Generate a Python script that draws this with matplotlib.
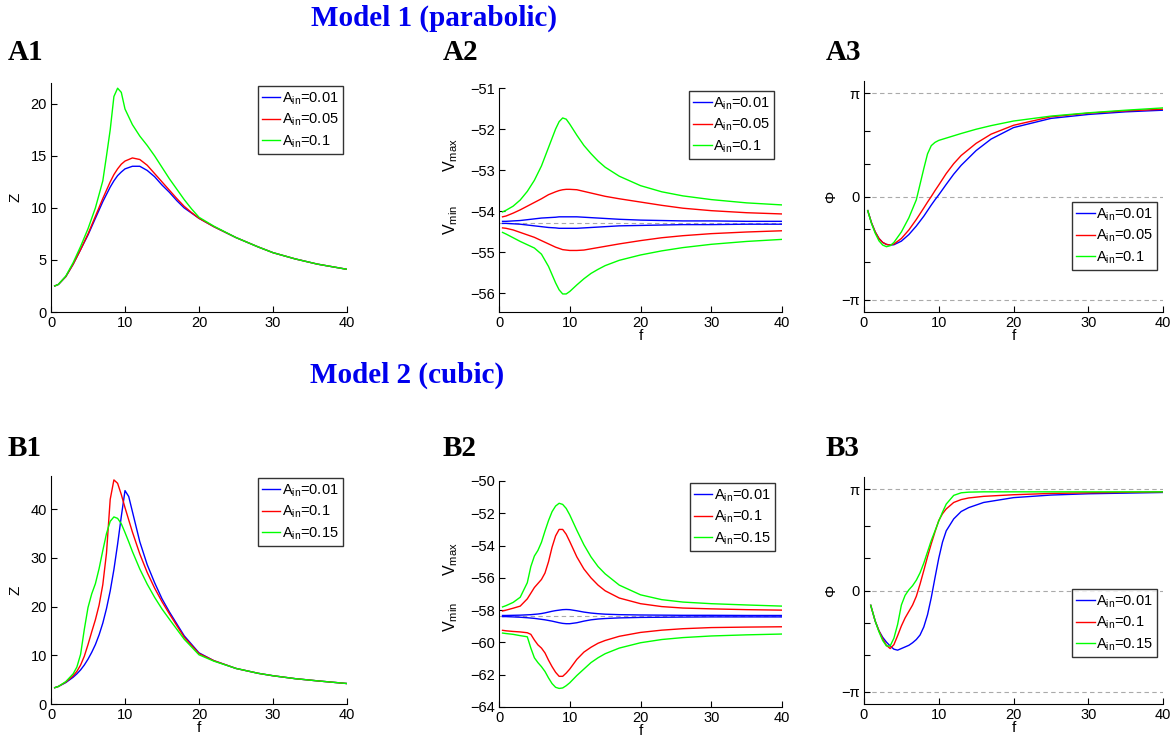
import numpy as np
import matplotlib
matplotlib.use('Agg')
import matplotlib.pyplot as plt

plt.rcParams['font.family'] = 'Liberation Sans'
plt.rcParams['mathtext.fontset'] = 'custom'
plt.rcParams['mathtext.rm'] = 'Liberation Sans'
plt.rcParams['mathtext.it'] = 'Liberation Sans:italic'

BLUE, RED, GREEN = '#0000ff', '#ff0000', '#00ff00'

# ─── A1: Z(f), model 1 ────────────────────────────────────────────────────────
F_A1 = [0.5, 1, 2, 3, 4, 5, 6, 7, 7.5, 8, 8.5, 9, 9.5, 10, 11, 12, 13, 14, 15,
        16, 17, 18, 19, 20, 22, 25, 28, 30, 33, 36, 40]
Z_A1_001 = [2.5, 2.65, 3.4, 4.6, 6.0, 7.4, 9.0, 10.6, 11.3, 12.0, 12.6, 13.1, 13.45,
            13.75, 14.0, 14.0, 13.6, 13.0, 12.2, 11.5, 10.7, 10.0, 9.5, 9.0, 8.2,
            7.15, 6.25, 5.7, 5.1, 4.6, 4.1]
Z_A1_005 = [2.5, 2.65, 3.4, 4.6, 6.0, 7.5, 9.2, 10.9, 11.7, 12.5, 13.2, 13.75, 14.2,
            14.5, 14.8, 14.65, 14.1, 13.3, 12.5, 11.7, 10.9, 10.15, 9.55, 9.0, 8.2,
            7.15, 6.25, 5.7, 5.1, 4.6, 4.1]
Z_A1_01 = [2.5, 2.65, 3.45, 4.75, 6.3, 8.0, 10.0, 12.6, 15.0, 17.5, 20.7, 21.5, 21.1,
           19.5, 18.0, 16.9, 16.0, 15.0, 13.9, 12.8, 11.8, 10.8, 9.9, 9.1, 8.25,
           7.15, 6.25, 5.7, 5.1, 4.6, 4.1]
LAB_A = ['0.01', '0.05', '0.1']

# ─── A2: Vmax / Vmin, model 1 ─────────────────────────────────────────────────
F_A2 = [0.5, 1, 2, 3, 4, 5, 6, 7, 8, 8.5, 9, 9.5, 10, 11, 12, 13, 14, 15, 17, 20,
        23, 26, 30, 35, 40]
VMAX_A2_001 = [-54.25, -54.25, -54.24, -54.23, -54.21, -54.19, -54.17, -54.16, -54.15,
               -54.14, -54.14, -54.14, -54.14, -54.14, -54.15, -54.16, -54.17, -54.18,
               -54.2, -54.22, -54.23, -54.24, -54.24, -54.25, -54.25]
VMIN_A2_001 = [-54.30, -54.30, -54.31, -54.32, -54.34, -54.36, -54.38, -54.4, -54.41,
               -54.42, -54.42, -54.42, -54.42, -54.42, -54.41, -54.40, -54.39, -54.38,
               -54.36, -54.35, -54.34, -54.33, -54.33, -54.32, -54.32]
VMAX_A2_005 = [-54.14, -54.12, -54.05, -53.97, -53.88, -53.79, -53.7, -53.6, -53.53,
               -53.5, -53.48, -53.47, -53.47, -53.48, -53.52, -53.56, -53.6, -53.64,
               -53.7, -53.78, -53.86, -53.93, -53.99, -54.04, -54.07]
VMIN_A2_005 = [-54.41, -54.42, -54.46, -54.52, -54.58, -54.64, -54.72, -54.8, -54.88,
               -54.91, -54.94, -54.95, -54.96, -54.96, -54.95, -54.92, -54.89, -54.86,
               -54.8, -54.72, -54.65, -54.6, -54.55, -54.51, -54.48]
VMAX_A2_01 = [-54.02, -53.98, -53.88, -53.73, -53.52, -53.25, -52.9, -52.45, -52.0,
              -51.82, -51.73, -51.76, -51.88, -52.15, -52.4, -52.6, -52.78, -52.93,
              -53.15, -53.38, -53.53, -53.63, -53.72, -53.8, -53.85]
VMIN_A2_01 = [-54.52, -54.56, -54.65, -54.74, -54.82, -54.9, -55.05, -55.35, -55.75,
              -55.92, -56.02, -56.02, -55.96, -55.8, -55.65, -55.52, -55.42, -55.33,
              -55.2, -55.07, -54.97, -54.89, -54.81, -54.74, -54.69]
VREST_A2 = -54.28

# ─── A3: phase, model 1 ───────────────────────────────────────────────────────
F_A3 = [0.5, 1, 1.5, 2, 2.5, 3, 3.5, 4, 5, 6, 7, 8, 8.5, 9, 9.5, 10, 11, 12, 13, 15,
        17, 20, 25, 30, 35, 40]
PH_A3_001 = [-0.43, -0.8, -1.08, -1.28, -1.4, -1.46, -1.48, -1.47, -1.36, -1.16, -0.9,
             -0.6, -0.43, -0.26, -0.1, 0.05, 0.37, 0.68, 0.95, 1.4, 1.75, 2.1, 2.38,
             2.5, 2.58, 2.63]
PH_A3_005 = [-0.43, -0.8, -1.08, -1.28, -1.4, -1.46, -1.48, -1.45, -1.28, -1.02, -0.7,
             -0.35, -0.17, 0.0, 0.18, 0.35, 0.7, 1.0, 1.25, 1.62, 1.9, 2.17, 2.43,
             2.54, 2.61, 2.66]
PH_A3_01 = [-0.43, -0.82, -1.12, -1.35, -1.48, -1.53, -1.5, -1.4, -1.08, -0.65, -0.1,
            0.85, 1.3, 1.55, 1.65, 1.71, 1.78, 1.85, 1.92, 2.05, 2.16, 2.3, 2.45, 2.55,
            2.63, 2.7]

# ─── B1: Z(f), model 2 ────────────────────────────────────────────────────────
F_B1 = [0.5, 1, 2, 3, 3.5, 4, 4.5, 5, 5.5, 6, 6.5, 7, 7.5, 8, 8.5, 9, 9.5, 10, 10.5,
        11, 12, 13, 14, 15, 16, 18, 20, 22, 25, 28, 30, 33, 36, 40]
Z_B1_001 = [3.35, 3.6, 4.4, 5.5, 6.2, 7.0, 8.0, 9.2, 10.6, 12.2, 14.2, 16.6, 19.6,
            23.2, 27.6, 32.8, 38.5, 43.8, 42.6, 39.5, 33.3, 28.6, 24.9, 21.6, 18.9,
            14.0, 10.5, 8.9, 7.3, 6.3, 5.8, 5.2, 4.75, 4.2]
Z_B1_01 = [3.35, 3.6, 4.5, 5.8, 6.7, 8.0, 9.8, 12.2, 14.8, 17.3, 20.3, 24.5, 31.0,
           42.0, 46.0, 45.3, 43.0, 40.3, 37.8, 35.3, 30.8, 27.0, 23.8, 21.0, 18.5,
           13.7, 10.35, 8.9, 7.3, 6.3, 5.8, 5.2, 4.75, 4.2]
Z_B1_015 = [3.35, 3.6, 4.6, 6.2, 7.6, 10.2, 15.3, 19.8, 22.6, 24.7, 27.8, 31.5, 35.0,
            37.5, 38.4, 38.1, 37.0, 35.2, 33.3, 31.3, 27.7, 24.6, 21.9, 19.5, 17.4,
            13.3, 10.1, 8.8, 7.3, 6.3, 5.8, 5.2, 4.75, 4.2]
LAB_B = ['0.01', '0.1', '0.15']

# ─── B2: Vmax / Vmin, model 2 ─────────────────────────────────────────────────
F_B2 = [0.5, 1, 2, 3, 4, 4.5, 5, 5.5, 6, 6.5, 7, 7.5, 8, 8.5, 9, 9.5, 10, 11, 12,
        13, 14, 15, 17, 20, 23, 26, 30, 35, 40]
VMAX_B2_001 = [-58.33, -58.33, -58.32, -58.31, -58.29, -58.28, -58.26, -58.24, -58.21,
               -58.17, -58.12, -58.07, -58.03, -58.0, -57.97, -57.96, -57.97, -58.04,
               -58.12, -58.18, -58.22, -58.25, -58.28, -58.3, -58.31, -58.32, -58.32,
               -58.33, -58.33]
VMIN_B2_001 = [-58.4, -58.4, -58.42, -58.44, -58.47, -58.49, -58.51, -58.54, -58.57,
               -58.6, -58.64, -58.68, -58.73, -58.78, -58.82, -58.84, -58.84, -58.78,
               -58.68, -58.6, -58.55, -58.52, -58.48, -58.45, -58.44, -58.43, -58.42,
               -58.42, -58.42]
VMAX_B2_01 = [-58.05, -58.0, -57.88, -57.75, -57.3, -56.95, -56.6, -56.35, -56.1,
              -55.7, -55.0, -54.1, -53.4, -53.0, -53.0, -53.3, -53.75, -54.7, -55.45,
              -56.0, -56.45, -56.8, -57.25, -57.6, -57.78, -57.87, -57.92, -57.97, -58.0]
VMIN_B2_01 = [-59.25, -59.28, -59.32, -59.35, -59.4, -59.5, -59.85, -60.15, -60.35,
              -60.65, -61.1, -61.5, -61.85, -62.1, -62.1, -61.9, -61.65, -61.05, -60.6,
              -60.3, -60.05, -59.88, -59.62, -59.38, -59.24, -59.15, -59.08, -59.05,
              -59.03]
VMAX_B2_015 = [-57.8, -57.72, -57.52, -57.2, -56.3, -55.3, -54.65, -54.3, -53.8, -53.1,
               -52.45, -51.9, -51.55, -51.38, -51.45, -51.7, -52.1, -53.05, -53.95,
               -54.7, -55.3, -55.75, -56.45, -57.05, -57.35, -57.5, -57.6, -57.68,
               -57.75]
VMIN_B2_015 = [-59.42, -59.45, -59.5, -59.58, -59.65, -60.35, -60.95, -61.25, -61.5,
               -61.8, -62.2, -62.55, -62.78, -62.85, -62.82, -62.68, -62.5, -62.05,
               -61.65, -61.25, -60.95, -60.7, -60.35, -60.02, -59.82, -59.7, -59.6,
               -59.53, -59.48]

# ─── B3: phase, model 2 ───────────────────────────────────────────────────────
F_B3 = [0.9, 1.5, 2, 2.5, 3, 3.5, 4, 4.5, 5, 5.5, 6, 6.5, 7, 7.5, 8, 8.5, 9, 9.5, 10,
        10.5, 11, 12, 13, 14, 16, 20, 25, 30, 40]
PH_B3_001 = [-0.46, -0.95, -1.25, -1.45, -1.6, -1.72, -1.82, -1.85, -1.8, -1.75, -1.7,
             -1.62, -1.52, -1.38, -1.13, -0.75, -0.22, 0.4, 1.0, 1.5, 1.85, 2.22, 2.45,
             2.57, 2.73, 2.88, 2.96, 3.0, 3.04]
PH_B3_01 = [-0.46, -0.95, -1.25, -1.5, -1.7, -1.8, -1.68, -1.4, -1.1, -0.85, -0.65,
            -0.45, -0.18, 0.2, 0.62, 1.05, 1.45, 1.82, 2.17, 2.38, 2.53, 2.73, 2.82,
            2.87, 2.92, 2.97, 3.01, 3.03, 3.06]
PH_B3_015 = [-0.46, -0.95, -1.28, -1.55, -1.72, -1.72, -1.48, -1.05, -0.45, -0.15,
             0.02, 0.15, 0.32, 0.55, 0.85, 1.2, 1.55, 1.85, 2.15, 2.43, 2.68, 2.95,
             3.03, 3.05, 3.06, 3.06, 3.06, 3.06, 3.06]


def style(ax):
    for s in ('top', 'right'):
        ax.spines[s].set_visible(False)
    for s in ('left', 'bottom'):
        ax.spines[s].set_linewidth(0.8)
    ax.tick_params(direction='in', length=4, width=0.8, labelsize=10.5, pad=3)
    ax.set_xlim(0, 40)
    ax.set_xticks([0, 10, 20, 30, 40])


def legend(ax, handles, labels, anchor):
    lg = ax.legend(handles, [r'A$_{\rm in}$=' + l for l in labels],
                   loc='upper right', bbox_to_anchor=anchor, fontsize=10.5,
                   frameon=True, fancybox=False, handlelength=1.25,
                   handletextpad=0.1, borderpad=0.3, labelspacing=0.35,
                   borderaxespad=0)
    lg.get_frame().set_edgecolor('k')
    lg.get_frame().set_linewidth(1.0)


def phase_axis(ax):
    for v in (-np.pi, 0, np.pi):
        ax.axhline(v, color='#aaaaaa', ls='--', lw=0.8, dashes=(4, 3), zorder=0)
    ax.set_ylim(-3.52, 3.52)
    ax.set_yticks([-np.pi, -2, -1, 0, 1, 2, np.pi])
    ax.set_yticklabels(['\u2212\u03c0', '', '', '0', '', '', '\u03c0'])
    ax.set_ylabel('\u03a6', fontsize=11, labelpad=2)
    ax.set_xlabel('f', fontsize=11, labelpad=-1)


fig = plt.figure(figsize=(11.73, 7.38), dpi=100)
W, H = 1173.0, 738.0


def add_axes(l, r, t, b):
    return fig.add_axes([l / W, 1 - b / H, (r - l) / W, (b - t) / H])


axA1 = add_axes(51, 347, 83, 312)
axA2 = add_axes(499, 782, 88, 312)
axA3 = add_axes(864, 1163, 81, 312)
axB1 = add_axes(51, 347, 476, 704)
axB2 = add_axes(499, 782, 481, 707)
axB3 = add_axes(864, 1163, 477, 704)
for ax in (axA1, axA2, axA3, axB1, axB2, axB3):
    style(ax)

# A1
hs = [axA1.plot(F_A1, z, color=c, lw=1)[0]
      for z, c in zip([Z_A1_001, Z_A1_005, Z_A1_01], [BLUE, RED, GREEN])]
axA1.set_ylim(0, 22)
axA1.set_yticks([0, 5, 10, 15, 20])
axA1.set_ylabel('Z', fontsize=11, labelpad=6)
legend(axA1, hs, LAB_A, (0.986, 0.987))

# A2
axA2.axhline(VREST_A2, color='#aaaaaa', ls='--', lw=0.8, dashes=(4, 3), zorder=0)
hs = []
for vmax, vmin, c in zip([VMAX_A2_001, VMAX_A2_005, VMAX_A2_01],
                         [VMIN_A2_001, VMIN_A2_005, VMIN_A2_01], [BLUE, RED, GREEN]):
    hs.append(axA2.plot(F_A2, vmax, color=c, lw=1)[0])
    axA2.plot(F_A2, vmin, color=c, lw=1)
axA2.set_ylim(-56.46, -51)
axA2.set_yticks([-56, -55, -54, -53, -52, -51])
axA2.set_yticklabels(['\u221256', '\u221255', '\u221254', '\u221253', '\u221252', '\u221251'])
axA2.text(-0.17, 0.70, r'V$_{\rm max}$', transform=axA2.transAxes, rotation=90,
          ha='center', va='center', fontsize=11.5)
axA2.text(-0.17, 0.41, r'V$_{\rm min}$', transform=axA2.transAxes, rotation=90,
          ha='center', va='center', fontsize=11.5)
axA2.set_xlabel('f', fontsize=11, labelpad=-1)
legend(axA2, hs, LAB_A, (0.972, 0.987))

# A3
phase_axis(axA3)
hs = [axA3.plot(F_A3, p, color=c, lw=1)[0]
      for p, c in zip([PH_A3_001, PH_A3_005, PH_A3_01], [BLUE, RED, GREEN])]
legend(axA3, hs, LAB_A, (0.98, 0.476))

# B1
hs = [axB1.plot(F_B1, z, color=c, lw=1)[0]
      for z, c in zip([Z_B1_001, Z_B1_01, Z_B1_015], [BLUE, RED, GREEN])]
axB1.set_ylim(0, 46.8)
axB1.set_yticks([0, 10, 20, 30, 40])
axB1.set_ylabel('Z', fontsize=11, labelpad=6)
axB1.set_xlabel('f', fontsize=11, labelpad=-1)
legend(axB1, hs, LAB_B, (0.986, 0.991))

# B2
axB2.axhline(-58.38, color='#aaaaaa', ls='--', lw=0.8, dashes=(4, 3), zorder=0)
hs = []
for vmax, vmin, c in zip([VMAX_B2_001, VMAX_B2_01, VMAX_B2_015],
                         [VMIN_B2_001, VMIN_B2_01, VMIN_B2_015], [BLUE, RED, GREEN]):
    hs.append(axB2.plot(F_B2, vmax, color=c, lw=1)[0])
    axB2.plot(F_B2, vmin, color=c, lw=1)
axB2.set_ylim(-64, -50)
axB2.set_yticks([-64, -62, -60, -58, -56, -54, -52, -50])
axB2.set_yticklabels(['\u2212%d' % v for v in [64, 62, 60, 58, 56, 54, 52, 50]])
axB2.text(-0.17, 0.655, r'V$_{\rm max}$', transform=axB2.transAxes, rotation=90,
          ha='center', va='center', fontsize=11.5)
axB2.text(-0.17, 0.40, r'V$_{\rm min}$', transform=axB2.transAxes, rotation=90,
          ha='center', va='center', fontsize=11.5)
axB2.set_xlabel('f', fontsize=11, labelpad=-1)
legend(axB2, hs, LAB_B, (0.975, 0.991))

# B3
phase_axis(axB3)
hs = [axB3.plot(F_B3, p, color=c, lw=1)[0]
      for p, c in zip([PH_B3_001, PH_B3_01, PH_B3_015], [BLUE, RED, GREEN])]
legend(axB3, hs, LAB_B, (0.98, 0.507))

# headings and panel letters
serif = dict(family='Liberation Serif', fontweight='bold')
fig.text(434 / W, 1 - 18 / H, 'Model 1 (parabolic)', ha='center', va='center',
         color='#0000ee', fontsize=21, **serif)
fig.text(407 / W, 1 - 375 / H, 'Model 2 (cubic)', ha='center', va='center',
         color='#0000ee', fontsize=21, **serif)
for lab, x, y in [('A1', 8, 53), ('A2', 443, 53), ('A3', 826, 53),
                  ('B1', 8, 448), ('B2', 443, 448), ('B3', 826, 448)]:
    fig.text(x / W, 1 - y / H, lab, ha='left', va='center', fontsize=21, **serif)

fig.savefig('out.png', dpi=100)
